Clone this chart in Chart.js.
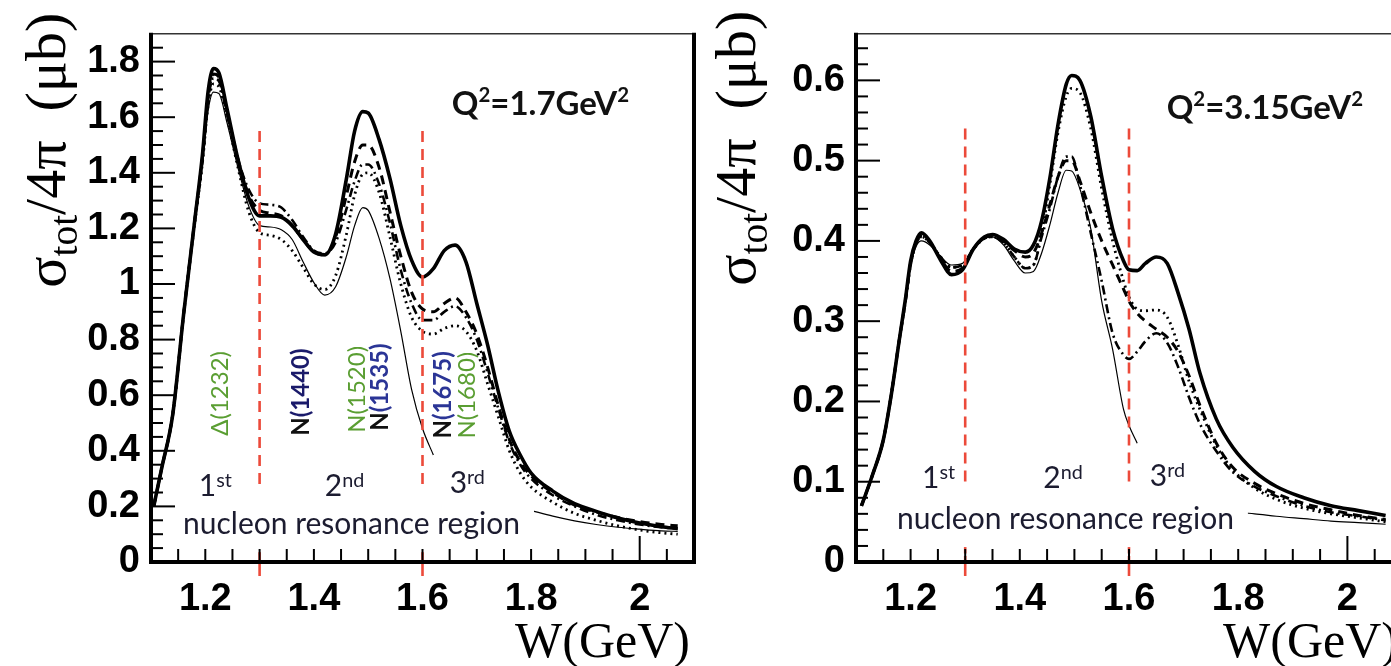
<!DOCTYPE html>
<html lang="en">
<head>
<meta charset="UTF-8">
<title>Total cross section per nucleon resonance region</title>
<script src="https://cdn.jsdelivr.net/npm/chart.js"></script>
<style>
  html, body { margin: 0; padding: 0; background: #fff; overflow: hidden; }
  body { width: 1391px; height: 666px; position: relative; }
  canvas { position: absolute; top: 0; }
  #lowQ2 { left: 0; }
  #highQ2 { left: 700px; }
</style>
</head>
<body>
<canvas id="lowQ2" width="700" height="666"></canvas>
<canvas id="highQ2" width="710" height="666"></canvas>
<script>
// ---- Q^2 = 1.7 GeV^2 ----
const wLow = [1.105, 1.12, 1.14, 1.16, 1.18, 1.195, 1.205, 1.215, 1.225, 1.24, 1.26, 1.28, 1.30, 1.32, 1.34, 1.36,
  1.38, 1.40, 1.42, 1.44, 1.46, 1.475, 1.49, 1.50, 1.52, 1.54, 1.56, 1.58, 1.60, 1.62, 1.64, 1.66, 1.68, 1.70,
  1.72, 1.74, 1.76, 1.78, 1.80, 1.84, 1.88, 1.92, 1.96, 2.00, 2.04, 2.07];
const solidLow = [0.20, 0.34, 0.53, 0.89, 1.22, 1.47, 1.69, 1.775, 1.76, 1.63, 1.45, 1.31, 1.245, 1.245, 1.24, 1.21,
  1.16, 1.115, 1.105, 1.18, 1.38, 1.55, 1.62, 1.615, 1.52, 1.38, 1.21, 1.085, 1.025, 1.055, 1.12, 1.14, 1.08, 0.93,
  0.78, 0.61, 0.47, 0.385, 0.32, 0.255, 0.21, 0.182, 0.158, 0.14, 0.127, 0.12];
const dashLow = [0.20, 0.34, 0.53, 0.89, 1.22, 1.46, 1.67, 1.755, 1.745, 1.62, 1.45, 1.32, 1.265, 1.255, 1.245, 1.21,
  1.16, 1.115, 1.105, 1.17, 1.32, 1.44, 1.50, 1.50, 1.42, 1.26, 1.10, 0.97, 0.91, 0.90, 0.93, 0.95, 0.90, 0.82,
  0.70, 0.56, 0.44, 0.36, 0.31, 0.25, 0.205, 0.18, 0.16, 0.145, 0.135, 0.13];
const dashDotLow = [0.20, 0.34, 0.53, 0.89, 1.22, 1.45, 1.66, 1.74, 1.73, 1.61, 1.45, 1.34, 1.29, 1.285, 1.275, 1.23,
  1.17, 1.12, 1.11, 1.15, 1.27, 1.37, 1.43, 1.43, 1.36, 1.22, 1.05, 0.93, 0.87, 0.87, 0.90, 0.92, 0.88, 0.80,
  0.68, 0.55, 0.43, 0.35, 0.30, 0.24, 0.20, 0.17, 0.15, 0.135, 0.125, 0.12];
const dotLow = [0.20, 0.34, 0.53, 0.89, 1.21, 1.44, 1.64, 1.72, 1.71, 1.60, 1.42, 1.26, 1.185, 1.175, 1.16, 1.12,
  1.06, 1.00, 0.98, 1.03, 1.18, 1.32, 1.395, 1.40, 1.33, 1.17, 1.00, 0.88, 0.83, 0.82, 0.84, 0.85, 0.83, 0.76,
  0.64, 0.52, 0.40, 0.32, 0.27, 0.215, 0.175, 0.15, 0.13, 0.115, 0.105, 0.10];
const thinLow = [0.20, 0.34, 0.53, 0.89, 1.21, 1.43, 1.62, 1.69, 1.685, 1.58, 1.42, 1.28, 1.21, 1.205, 1.195, 1.16,
  1.08, 1.005, 0.96, 0.99, 1.10, 1.21, 1.275, 1.265, 1.165, 1.02, 0.83, 0.62, 0.48, 0.385, null, null, null, null,
  null, null, null, null, 0.185, 0.165, 0.148, 0.135, 0.125, 0.118, 0.112, 0.11];

// ---- Q^2 = 3.15 GeV^2 ----
const wHigh = [1.11, 1.13, 1.15, 1.165, 1.18, 1.19, 1.20, 1.21, 1.22, 1.235, 1.255, 1.275, 1.295, 1.315, 1.335, 1.35,
  1.37, 1.39, 1.41, 1.425, 1.44, 1.455, 1.47, 1.485, 1.495, 1.51, 1.53, 1.55, 1.57, 1.59, 1.60, 1.615, 1.63, 1.65,
  1.67, 1.69, 1.71, 1.73, 1.76, 1.79, 1.83, 1.87, 1.92, 1.97, 2.02, 2.07];
const solidHigh = [0.07, 0.108, 0.152, 0.21, 0.28, 0.325, 0.375, 0.40, 0.41, 0.40, 0.376, 0.358, 0.364, 0.39, 0.405, 0.408,
  0.402, 0.39, 0.386, 0.395, 0.425, 0.478, 0.545, 0.595, 0.606, 0.60, 0.555, 0.48, 0.415, 0.375, 0.364, 0.363, 0.372, 0.38,
  0.372, 0.335, 0.29, 0.235, 0.178, 0.143, 0.113, 0.094, 0.08, 0.07, 0.064, 0.058];
const dotHigh = [0.07, 0.108, 0.152, 0.21, 0.28, 0.322, 0.37, 0.397, 0.405, 0.398, 0.38, 0.367, 0.37, 0.39, 0.403, 0.405,
  0.398, 0.38, 0.366, 0.37, 0.41, 0.47, 0.535, 0.58, 0.59, 0.585, 0.54, 0.465, 0.40, 0.35, 0.33, 0.315, 0.313, 0.314,
  0.305, 0.27, 0.225, 0.19, 0.145, 0.115, 0.092, 0.078, 0.067, 0.06, 0.055, 0.05];
const dashHigh = [0.07, 0.108, 0.152, 0.21, 0.28, 0.323, 0.372, 0.398, 0.406, 0.399, 0.378, 0.362, 0.366, 0.39, 0.404, 0.406,
  0.40, 0.388, 0.38, 0.385, 0.41, 0.445, 0.48, 0.50, 0.50, 0.475, 0.435, 0.40, 0.37, 0.34, 0.325, 0.31, 0.30, 0.29,
  0.28, 0.262, 0.232, 0.195, 0.148, 0.118, 0.098, 0.085, 0.073, 0.065, 0.058, 0.053];
const dashDotHigh = [0.07, 0.108, 0.152, 0.21, 0.28, 0.322, 0.37, 0.397, 0.405, 0.398, 0.38, 0.367, 0.37, 0.39, 0.403, 0.405,
  0.398, 0.38, 0.366, 0.37, 0.405, 0.44, 0.48, 0.505, 0.505, 0.47, 0.41, 0.35, 0.285, 0.258, 0.253, 0.262, 0.275, 0.285,
  0.273, 0.243, 0.205, 0.172, 0.138, 0.112, 0.094, 0.082, 0.07, 0.062, 0.057, 0.052];
const thinHigh = [0.07, 0.108, 0.152, 0.21, 0.28, 0.322, 0.368, 0.393, 0.40, 0.395, 0.38, 0.37, 0.372, 0.39, 0.403, 0.405,
  0.395, 0.375, 0.36, 0.362, 0.385, 0.42, 0.46, 0.488, 0.487, 0.465, 0.415, 0.325, 0.265, 0.19, 0.17, 0.148, null, null,
  null, null, null, null, null, 0.062, 0.06, 0.057, 0.054, 0.051, 0.049, 0.047];

// ---- axes ----
const xTicks = [1.2, 1.4, 1.6, 1.8, 2.0];
const xTickLabels = ['1.2', '1.4', '1.6', '1.8', '2'];
const yTicksLow = [0, 0.2, 0.4, 0.6, 0.8, 1.0, 1.2, 1.4, 1.6, 1.8];
const yTickLabelsLow = ['0', '0.2', '0.4', '0.6', '0.8', '1', '1.2', '1.4', '1.6', '1.8'];
const yTicksHigh = [0, 0.1, 0.2, 0.3, 0.4, 0.5, 0.6];
const yTickLabelsHigh = ['0', '0.1', '0.2', '0.3', '0.4', '0.5', '0.6'];
const regionEdges = [1.3, 1.6];

const RED = '#ec4a3a';
const INK = '#1c1c30';
const GREEN = '#5a9e32';
const BLUE = '#2b3596';
const tickFont = { family: '"Liberation Sans", Arial, sans-serif', size: 38, weight: 'bold' };

function line(ctx, x1, y1, x2, y2) {
  ctx.beginPath(); ctx.moveTo(x1, y1); ctx.lineTo(x2, y2); ctx.stroke();
}

// text made of runs, each with its own size / colour / raise
function drawRuns(ctx, x, y, runs, base) {
  let cx = x;
  for (const r of runs) {
    const size = base.size * (r.scale || 1);
    ctx.font = `${r.bold ? 'bold ' : ''}${size}px ${base.family}`;
    ctx.fillStyle = r.color || base.color;
    ctx.fillText(r.t, cx, y - (r.raise || 0) * base.size);
    cx += ctx.measureText(r.t).width;
  }
  return cx - x;
}

const decoPlugin = {
  id: 'deco',
  beforeDraw(chart) {
    const ctx = chart.ctx;
    ctx.save(); ctx.fillStyle = '#fff'; ctx.fillRect(0, 0, chart.width, chart.height); ctx.restore();
  },
  afterDatasetsDraw(chart, args, o) {
    const ctx = chart.ctx;
    const xs = chart.scales.x, ys = chart.scales.y;
    const { left, right, top, bottom } = chart.chartArea;
    ctx.save();
    ctx.textBaseline = 'alphabetic';
    ctx.textAlign = 'left';

    // resonance region boundaries
    ctx.strokeStyle = RED; ctx.lineWidth = 2.6;
    for (const w of regionEdges) {
      const px = xs.getPixelForValue(w);
      ctx.setLineDash([11, 7]);
      line(ctx, px, ys.getPixelForValue(o.edgeTop), px, bottom);
      ctx.setLineDash([]);
      line(ctx, px, bottom - 6, px, bottom + 14);
    }

    // caption box
    const cap = o.caption;
    ctx.font = `${cap.size}px Lato`;
    const capW = ctx.measureText(cap.text).width;
    const cx = xs.getPixelForValue(cap.w), cy = ys.getPixelForValue(cap.v);
    ctx.fillStyle = '#fff';
    ctx.fillRect(cx - 8, cy - cap.size * 1.45, capW + 22, cap.size * 2.05);
    ctx.fillStyle = INK;
    ctx.fillText(cap.text, cx, cy);

    // 1st / 2nd / 3rd
    for (const r of o.orders) {
      drawRuns(ctx, xs.getPixelForValue(r.w), ys.getPixelForValue(r.v),
        [{ t: r.n }, { t: r.s, scale: 0.66, raise: 0.3 }], { size: o.orderSize, family: 'Lato', color: INK });
    }

    // Q^2 label
    drawRuns(ctx, xs.getPixelForValue(o.q2.w), ys.getPixelForValue(o.q2.v), [
      { t: 'Q', bold: true }, { t: '2', bold: true, scale: 0.62, raise: 0.38 },
      { t: o.q2.text, bold: true }, { t: '2', bold: true, scale: 0.62, raise: 0.38 }
    ], { size: o.q2.size, family: 'Lato', color: '#111' });

    // resonance names, read bottom to top
    for (const r of (o.resonances || [])) {
      ctx.save();
      ctx.translate(xs.getPixelForValue(r.w), ys.getPixelForValue(r.v));
      ctx.rotate(-Math.PI / 2);
      const runs = r.split
        ? [{ t: 'N', bold: true, color: '#111' }, { t: r.label.slice(1), bold: true, color: r.color }]
        : [{ t: r.label, color: r.color }];
      drawRuns(ctx, 0, 0, runs, { size: 24, family: 'Lato', color: r.color });
      ctx.restore();
    }

    // inward ticks
    ctx.strokeStyle = '#000'; ctx.lineWidth = 2;
    for (let k = 1; xs.min + k * 0.05 < xs.max - 1e-6; k++) {
      const w = xs.min + k * 0.05;
      const px = xs.getPixelForValue(w);
      line(ctx, px, bottom, px, bottom - (Math.abs(w - 2) < 1e-6 ? 26 : 13));
    }
    for (let k = 1; k * o.yMinor < ys.max - 1e-6; k++) {
      const v = k * o.yMinor;
      const py = ys.getPixelForValue(v);
      const major = Math.abs(v / o.yMajor - Math.round(v / o.yMajor)) < 1e-6;
      line(ctx, left, py, left + (major ? 24 : 12), py);
    }

    // frame
    ctx.strokeStyle = '#333'; ctx.lineWidth = 1.5;
    line(ctx, left, top, right, top);
    ctx.strokeStyle = '#000'; ctx.lineWidth = 4;
    line(ctx, left, top - 1, left, bottom + 2);
    line(ctx, left - 2, bottom, right + 2, bottom);
    line(ctx, right, top - 1, right, bottom + 2);

    // axis titles
    ctx.fillStyle = '#000';
    ctx.font = `${o.xTitleSize}px "Liberation Serif"`;
    ctx.textAlign = 'right';
    ctx.fillText('W(GeV)', right - 4, o.xTitleY);
    ctx.textAlign = 'left';
    ctx.save();
    ctx.translate(left - o.yTitleDx, top + o.yTitleDy);
    ctx.rotate(-Math.PI / 2);
    drawRuns(ctx, 0, 0, [
      { t: 'σ' }, { t: 'tot', scale: 0.68, raise: -0.2 }, { t: '/4π' }, { t: '  (μb)' }
    ], { size: o.yTitleSize, family: '"Liberation Serif"', color: '#000' });
    ctx.restore();

    ctx.restore();
  }
};

function series(values, width, dash) {
  return { values, width, dash };
}

function buildChart(id, p) {
  return new Chart(document.getElementById(id), {
    type: 'line',
    data: {
      datasets: p.series.map(s => ({
        data: p.w.map((w, i) => ({ x: w, y: s.values[i] })),
        borderColor: '#000',
        borderWidth: s.width,
        borderDash: s.dash,
        pointRadius: 0,
        cubicInterpolationMode: 'monotone',
        spanGaps: false,
        fill: false
      }))
    },
    options: {
      responsive: false,
      animation: false,
      events: [],
      layout: { padding: { left: 0, top: 10, right: p.padRight, bottom: 0 } },
      plugins: { legend: { display: false }, tooltip: { enabled: false }, deco: p.deco },
      scales: {
        x: {
          type: 'linear', min: 1.1, max: 2.1,
          grid: { display: false, drawTicks: false }, border: { display: false },
          afterBuildTicks: sc => { sc.ticks = xTicks.map(v => ({ value: v })); },
          afterFit: sc => { sc.height = 104; },
          ticks: { callback: (v, i) => xTickLabels[i], font: tickFont, color: '#000', padding: 15, maxRotation: 0, autoSkip: false }
        },
        y: {
          type: 'linear', min: 0, max: p.yMax,
          grid: { display: false, drawTicks: false }, border: { display: false },
          afterBuildTicks: sc => { sc.ticks = p.yTicks.map(v => ({ value: v })); },
          afterFit: sc => { sc.width = p.yWidth; },
          ticks: { callback: (v, i) => p.yLabels[i], font: tickFont, color: '#000', padding: 11, autoSkip: false }
        }
      }
    },
    plugins: [decoPlugin]
  });
}

buildChart('lowQ2', {
  w: wLow, yMax: 1.9, yTicks: yTicksLow, yLabels: yTickLabelsLow, yWidth: 151, padRight: 6,
  series: [
    series(solidLow, 3.6, []),
    series(dashLow, 3, [9, 6]),
    series(dashDotLow, 2.6, [9, 4, 2, 4]),
    series(dotLow, 2.8, [2, 4]),
    series(thinLow, 1.2, [])
  ],
  deco: {
    edgeTop: 1.55, yMinor: 0.05, yMajor: 0.2, xTitleSize: 50, xTitleY: 657,
    yTitleSize: 58, yTitleDx: 86, yTitleDy: 254,
    orderSize: 30,
    orders: [{ n: '1', s: 'st', w: 1.188, v: 0.237 }, { n: '2', s: 'nd', w: 1.42, v: 0.237 }, { n: '3', s: 'rd', w: 1.65, v: 0.248 }],
    caption: { text: 'nucleon resonance region', w: 1.159, v: 0.10, size: 30 },
    q2: { text: '=1.7GeV', w: 1.654, v: 1.608, size: 33 },
    resonances: [
      { label: 'Δ(1232)', w: 1.242, v: 0.454, color: GREEN },
      { label: 'N(1440)', w: 1.391, v: 0.454, color: '#1a1a6a', split: true },
      { label: 'N(1520)', w: 1.494, v: 0.465, color: GREEN },
      { label: 'N(1535)', w: 1.536, v: 0.472, color: BLUE, split: true },
      { label: 'N(1675)', w: 1.652, v: 0.444, color: BLUE, split: true },
      { label: 'N(1680)', w: 1.697, v: 0.444, color: GREEN }
    ]
  }
});

buildChart('highQ2', {
  w: wHigh, yMax: 0.658, yTicks: yTicksHigh, yLabels: yTickLabelsHigh, yWidth: 156, padRight: 8,
  series: [
    series(solidHigh, 3.6, []),
    series(dashHigh, 3, [9, 6]),
    series(dashDotHigh, 2.6, [9, 4, 2, 4]),
    series(dotHigh, 2.8, [2, 4]),
    series(thinHigh, 1.2, [])
  ],
  deco: {
    edgeTop: 0.54, yMinor: 0.02, yMajor: 0.1, xTitleSize: 50, xTitleY: 657,
    yTitleSize: 58, yTitleDx: 101, yTitleDy: 252,
    orderSize: 30,
    orders: [{ n: '1', s: 'st', w: 1.221, v: 0.092 }, { n: '2', s: 'nd', w: 1.443, v: 0.092 }, { n: '3', s: 'rd', w: 1.638, v: 0.095 }],
    caption: { text: 'nucleon resonance region', w: 1.175, v: 0.041, size: 30 },
    q2: { text: '=3.15GeV', w: 1.669, v: 0.552, size: 33 }
  }
});
</script>
</body>
</html>
